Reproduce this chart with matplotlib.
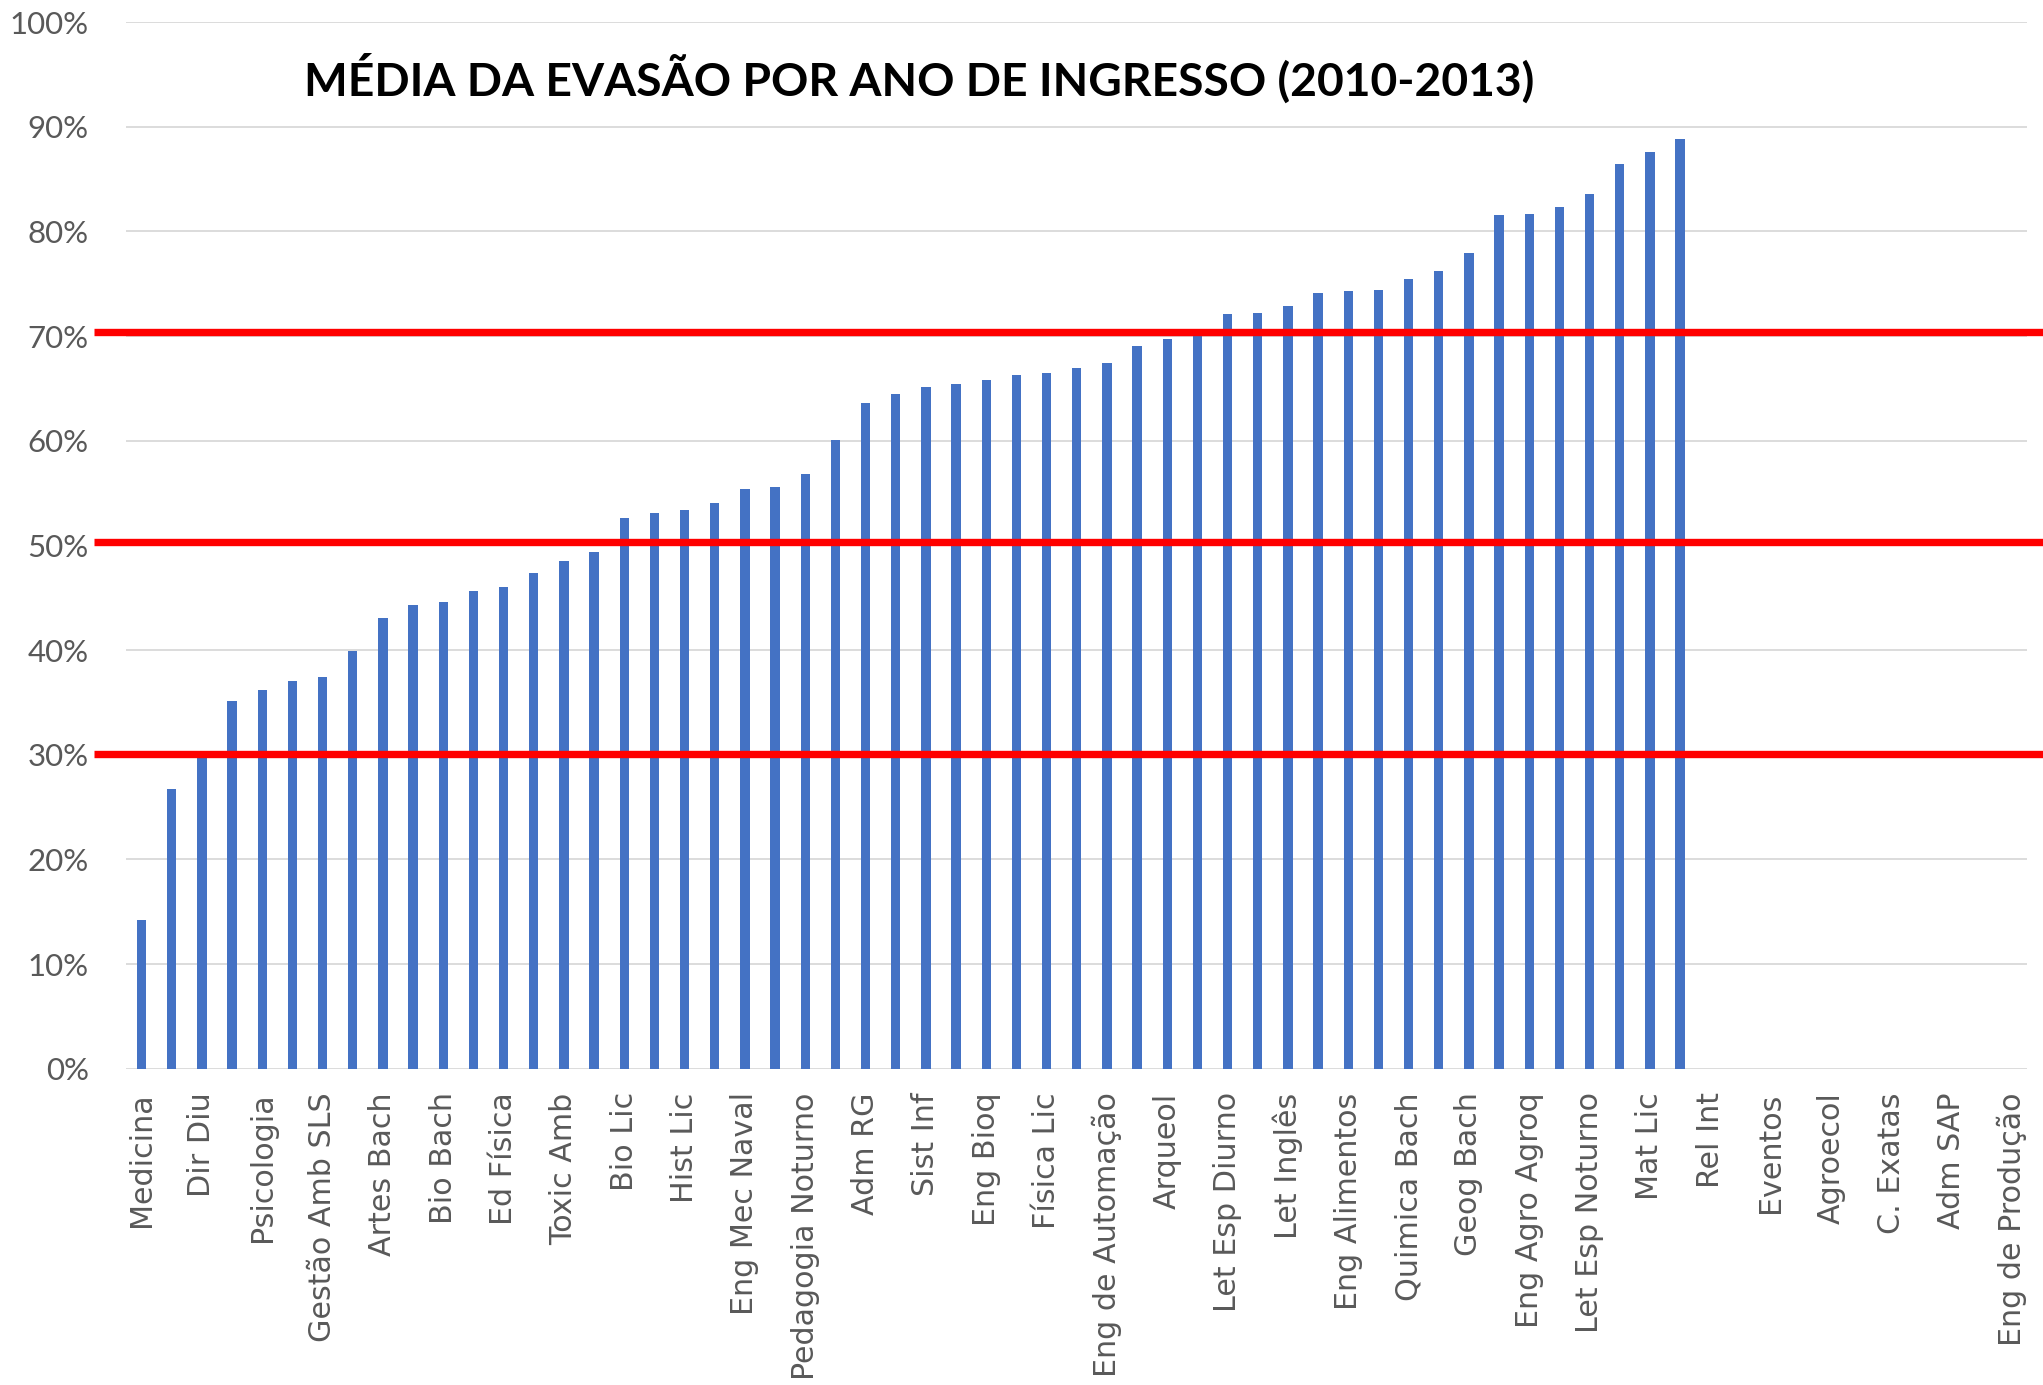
"""Média da evasão por ano de ingresso (2010-2013) — bar chart with red reference lines."""

import matplotlib
matplotlib.use("Agg")
import matplotlib.pyplot as plt  # noqa: E402
import numpy as np  # noqa: E402

TITLE = "MÉDIA DA EVASÃO POR ANO DE INGRESSO (2010-2013)"

# only every other course name is printed on the axis (as in the original)
labels = [
    "Medicina", "Dir Diu", "Psicologia", "Gestão Amb SLS", "Artes Bach", "Bio Bach",
    "Ed Física", "Toxic Amb", "Bio Lic", "Hist Lic", "Eng Mec Naval", "Pedagogia Noturno",
    "Adm RG", "Sist Inf", "Eng Bioq", "Física Lic", "Eng de Automação", "Arqueol",
    "Let Esp Diurno", "Let Inglês", "Eng Alimentos", "Quimica Bach", "Geog Bach",
    "Eng Agro Agroq", "Let Esp Noturno", "Mat Lic", "Rel Int", "Eventos", "Agroecol",
    "C. Exatas", "Adm SAP", "Eng de Produção",
]

# evasion (%) per course, sorted; the last 11 courses have no value
evasao = [
    14.2, 26.7, 29.8, 35.1, 36.2, 37.0, 37.4, 39.9, 43.1, 44.3,
    44.6, 45.6, 46.0, 47.4, 48.5, 49.4, 52.6, 53.1, 53.4, 54.0,
    55.4, 55.6, 56.8, 60.1, 63.6, 64.5, 65.1, 65.4, 65.8, 66.3,
    66.5, 66.9, 67.4, 69.0, 69.7, 70.1, 72.1, 72.2, 72.9, 74.1,
    74.3, 74.4, 75.4, 76.2, 77.9, 81.6, 81.7, 82.3, 83.6, 86.4,
    87.6, 88.8,
]

ref_lines = [30.1, 50.35, 70.35]

BLUE = "#4472C4"
RED = "#FF0000"
GRAY_TXT = "#595959"
GRID = "#D9D9D9"


def main():
    n_cat = 2 * len(labels) - 1

    fig = plt.figure(figsize=(20.43, 13.85), dpi=100)
    ax = fig.add_axes([0.0619, 0.2284, 0.9303, 0.7557])

    ax.bar(np.arange(len(evasao)), evasao, width=0.31, color=BLUE, zorder=2)

    for y in ref_lines:
        ax.axhline(y, xmin=-0.017, xmax=1.01, color=RED, lw=5.3,
                   solid_capstyle="butt", clip_on=False, zorder=3)

    ax.set_xlim(-0.5, n_cat - 0.5)
    ax.set_ylim(0, 100)
    ax.set_yticks(np.arange(0, 101, 10))
    ax.set_yticklabels([f"{v}%" for v in range(0, 101, 10)])
    ax.set_xticks(np.arange(0, n_cat, 2))
    ax.set_xticklabels(labels, rotation=90, ha="center", va="top")

    ax.grid(axis="y", color=GRID, lw=1.3, zorder=0)
    ax.set_axisbelow(True)
    for s in ax.spines.values():
        s.set_visible(False)

    ax.tick_params(axis="y", length=0, pad=27, labelsize=22.5, labelcolor=GRAY_TXT)
    ax.tick_params(axis="x", length=0, pad=17, labelsize=21.7, labelcolor=GRAY_TXT)
    for t in ax.get_yticklabels():
        t.set_fontfamily("Lato")
    for t in ax.get_xticklabels():
        t.set_fontfamily("DejaVu Sans")

    fig.text(0.450, 0.943, TITLE, ha="center", va="center", fontsize=33.3,
             fontweight="bold", family="Lato", color="black")

    fig.savefig("out.png", dpi=100)
    plt.close(fig)


if __name__ == "__main__":
    main()
